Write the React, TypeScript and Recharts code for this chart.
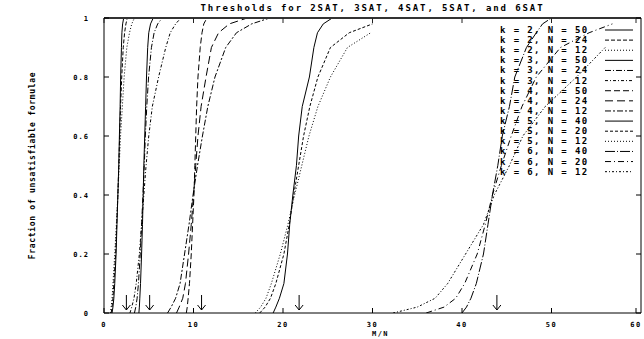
import React from 'react';
import { ComposedChart, Line, XAxis, YAxis, Scatter, Legend } from 'recharts';

// Fraction-of-unsatisfiable levels shared by every curve
const fractionLevels = [0, 0.02, 0.05, 0.1, 0.2, 0.3, 0.4, 0.5, 0.6, 0.7, 0.8, 0.9, 0.95, 0.98, 1];

// M/N ratio at which each curve reaches the level above (null = not reached)
const k2n50 = [0.9, 1.0, 1.1, 1.2, 1.35, 1.45, 1.55, 1.65, 1.72, 1.8, 1.86, 1.95, 2.0, 2.08, 2.2];
const k2n24 = [0.8, 0.9, 1.0, 1.1, 1.3, 1.42, 1.55, 1.65, 1.75, 1.85, 1.98, 2.15, 2.3, 2.45, 2.6];
const k2n12 = [0.7, 0.8, 0.9, 1.0, 1.2, 1.38, 1.55, 1.7, 1.85, 2.05, 2.25, 2.55, 2.85, 3.1, 3.4];
const k3n50 = [3.9, 3.95, 4.0, 4.08, 4.2, 4.3, 4.38, 4.45, 4.55, 4.65, 4.75, 4.88, 5.0, 5.2, 5.5];
const k3n24 = [3.4, 3.55, 3.7, 3.85, 4.05, 4.2, 4.35, 4.5, 4.62, 4.78, 4.98, 5.3, 5.6, 6.0, 6.5];
const k3n12 = [2.9, 3.1, 3.35, 3.6, 3.95, 4.2, 4.45, 4.7, 5.0, 5.4, 6.1, 6.9, 7.4, 8.0, 8.6];
const k4n50 = [9.2, 9.3, 9.4, 9.55, 9.75, 9.9, 10.05, 10.15, 10.25, 10.35, 10.5, 10.75, 10.95, 11.15, 11.5];
const k4n24 = [8.1, 8.4, 8.8, 9.1, 9.45, 9.75, 10.0, 10.25, 10.5, 10.85, 11.4, 12.0, 12.8, 14.0, 16.0];
const k4n12 = [7.1, 7.5, 8.0, 8.5, 9.0, 9.5, 9.95, 10.45, 11.0, 11.6, 12.4, 13.6, 14.8, 16.5, 18.5];
const k5n40 = [18.9, 19.2, 19.6, 20.1, 20.5, 20.75, 21.1, 21.5, 21.75, 22.15, 22.95, 23.45, 23.85, 24.5, 25.5];
const k5n20 = [17.4, 18.0, 18.6, 19.2, 20.1, 20.7, 21.2, 21.75, 22.3, 23.0, 23.9, 25.3, 27.4, 30.0, null];
const k5n12 = [16.9, 17.5, 18.1, 18.7, 19.7, 20.55, 21.3, 22.1, 22.9, 23.9, 25.3, 27.2, 29.8, null, null];
const k6n40 = [40.0, 40.5, 41.0, 41.6, 42.4, 42.9, 43.4, 44.0, 44.5, 45.3, 45.9, 47.2, 48.3, 49.0, 50.0];
const k6n20 = [36.0, 38.0, 39.3, 40.3, 41.7, 42.6, 43.4, 44.4, 45.5, 46.7, 48.3, 51.0, 54.2, 56.8, null];
const k6n12 = [32.3, 35.0, 37.0, 38.4, 40.4, 42.4, 43.6, 45.3, 46.8, 49.3, 52.8, 56.0, null, null, null];

const seriesLabels = [
  'k = 2, N = 50', 'k = 2, N = 24', 'k = 2, N = 12',
  'k = 3, N = 50', 'k = 3, N = 24', 'k = 3, N = 12',
  'k = 4, N = 50', 'k = 4, N = 24', 'k = 4, N = 12',
  'k = 5, N = 40', 'k = 5, N = 20', 'k = 5, N = 12',
  'k = 6, N = 40', 'k = 6, N = 20', 'k = 6, N = 12',
];
const seriesValues = [k2n50, k2n24, k2n12, k3n50, k3n24, k3n12, k4n50, k4n24, k4n12, k5n40, k5n20, k5n12, k6n40, k6n20, k6n12];
const seriesDashes = [
  undefined, '4 2', '1 2',
  undefined, '6 2 1 2', '3 2 1 2',
  '6 3', '8 4', '6 2 2 2',
  undefined, '3 2', '1 2',
  '10 2 1 2', '6 3 1 3', '2 2 1 2',
];

// Predicted thresholds marked with arrows on the M/N axis
const thresholdArrows = [2.5, 5.1, 10.9, 21.8, 43.9];

const xTicks = [0, 10, 20, 30, 40, 50, 60];
const yTicks = [0, 0.2, 0.4, 0.6, 0.8, 1];

const titleText = 'Thresholds for 2SAT, 3SAT, 4SAT, 5SAT, and 6SAT';
const xLabel = 'M/N';
const yLabel = 'Fraction of unsatisfiable formulae';

const MONO = '"DejaVu Sans Mono", "Liberation Mono", monospace';

const series = seriesLabels.map((name, i) => ({
  name,
  dash: seriesDashes[i],
  data: fractionLevels
    .map((f, j) => ({ m: seriesValues[i][j], f }))
    .filter((p) => p.m !== null && p.m !== undefined),
}));

const arrowData = thresholdArrows.map((m) => ({ m, f: 0 }));

const BottomTick = (props: any) => {
  const { x, y, payload } = props;
  return (
    <g>
      <line x1={x} y1={y} x2={x} y2={y - 5} stroke="#000" />
      <text x={x} y={y + 14} textAnchor="middle" fontSize={7} fontWeight="bold" fontFamily={MONO} letterSpacing={1.5} fill="#000">
        {payload.value}
      </text>
    </g>
  );
};

const TopTick = (props: any) => {
  const { x, y } = props;
  return <line x1={x} y1={y} x2={x} y2={y + 5} stroke="#222" />;
};

const LeftTick = (props: any) => {
  const { x, y, payload } = props;
  return (
    <g>
      <line x1={x} y1={y} x2={x + 5} y2={y} stroke="#000" />
      <text x={x - 15} y={y + 2.5} textAnchor="end" fontSize={7} fontWeight="bold" fontFamily={MONO} letterSpacing={1} fill="#000">
        {payload.value}
      </text>
    </g>
  );
};

const RightTick = (props: any) => {
  const { x, y } = props;
  return <line x1={x} y1={y} x2={x - 5} y2={y} stroke="#000" />;
};

const ArrowShape = (props: any) => {
  const { cx, cy } = props;
  return (
    <g stroke="#000" fill="none" strokeWidth={1}>
      <line x1={cx} y1={cy - 18} x2={cx} y2={cy - 3} />
      <polyline points={`${cx - 4},${cy - 8} ${cx},${cy - 3} ${cx + 4},${cy - 8}`} />
    </g>
  );
};

const LegendBox = () => (
  <svg width={144} height={160}>
    {series.map((s, i) => {
      const cy = 8 + i * 10.12;
      return (
        <g key={s.name}>
          <text x={4} y={cy + 3} fontSize={9} fontWeight="bold" fontFamily={MONO} letterSpacing={1.4} fill="#000">
            {s.name}
          </text>
          <line x1={109} x2={137} y1={cy} y2={cy} stroke="#000" strokeWidth={1} strokeDasharray={s.dash} />
        </g>
      );
    })}
  </svg>
);

export default function App() {
  return (
    <div style={{ position: 'absolute', left: 0, top: 0, width: 644, height: 339, background: '#fff' }}>
      <div
        style={{
          position: 'absolute',
          left: 104,
          width: 537,
          top: 2,
          textAlign: 'center',
          fontFamily: MONO,
          fontSize: 9,
          fontWeight: 'bold',
          letterSpacing: 1.9,
          lineHeight: '12px',
          color: '#000',
          whiteSpace: 'nowrap',
        }}
      >
        {titleText}
      </div>
      <ComposedChart width={644} height={339} margin={{ top: 14, right: 2, bottom: 0, left: 24 }}>
        <XAxis
          xAxisId="bottom"
          dataKey="m"
          type="number"
          domain={[0, 60]}
          ticks={xTicks}
          height={26}
          tickSize={0}
          tickMargin={0}
          tickLine={false}
          axisLine={{ stroke: '#000' }}
          tick={<BottomTick />}
          allowDataOverflow
          label={{ value: xLabel, position: 'insideBottom', offset: 3, fontSize: 7, fontWeight: 'bold', fontFamily: MONO, letterSpacing: 1.5, fill: '#000', dx: 8 }}
        />
        <XAxis
          xAxisId="top"
          orientation="top"
          dataKey="m"
          type="number"
          domain={[0, 60]}
          ticks={xTicks}
          height={4}
          tickSize={0}
          tickMargin={0}
          tickLine={false}
          axisLine={{ stroke: '#333', strokeWidth: 2 }}
          tick={<TopTick />}
          allowDataOverflow
        />
        <YAxis
          yAxisId="left"
          type="number"
          domain={[0, 1]}
          ticks={yTicks}
          width={80}
          tickSize={0}
          tickMargin={0}
          tickLine={false}
          axisLine={{ stroke: '#000' }}
          tick={<LeftTick />}
          allowDataOverflow
          label={{
            value: yLabel,
            angle: -90,
            position: 'insideLeft',
            offset: 8,
            style: { textAnchor: 'middle', fontSize: 8, fontWeight: 'bold', fontFamily: MONO, letterSpacing: 0.7, fill: '#000' },
          }}
        />
        <YAxis
          yAxisId="right"
          orientation="right"
          type="number"
          domain={[0, 1]}
          ticks={yTicks}
          width={1}
          tickSize={0}
          tickMargin={0}
          tickLine={false}
          axisLine={{ stroke: '#000' }}
          tick={<RightTick />}
          allowDataOverflow
        />
        {series.map((s) => (
          <Line
            key={s.name}
            xAxisId="bottom"
            yAxisId="left"
            data={s.data}
            dataKey="f"
            name={s.name}
            type="linear"
            stroke="#000"
            strokeWidth={1}
            strokeDasharray={s.dash}
            dot={false}
            activeDot={false}
            isAnimationActive={false}
          />
        ))}
        <Scatter
          xAxisId="top"
          yAxisId="right"
          data={arrowData}
          dataKey="f"
          shape={<ArrowShape />}
          isAnimationActive={false}
          legendType="none"
        />
        <Legend
          layout="vertical"
          align="center"
          verticalAlign="middle"
          content={<LegendBox />}
          wrapperStyle={{ left: 496, top: 22, width: 144, height: 160 }}
        />
      </ComposedChart>
    </div>
  );
}
